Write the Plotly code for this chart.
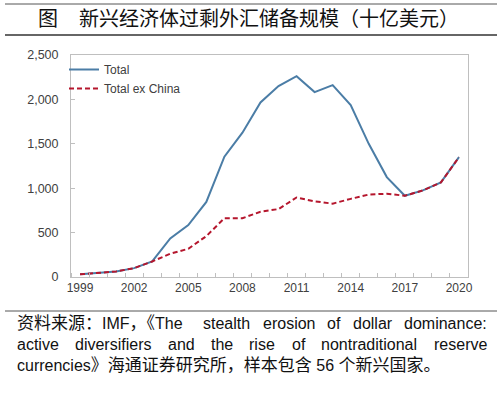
import plotly.graph_objects as go

years = list(range(1999, 2021))
total = [30, 42, 62, 100, 175, 435, 585, 845, 1355, 1625, 1965, 2150, 2262, 2082, 2160, 1935, 1500, 1125, 915, 975, 1065, 1350]
total_ex_china = [30, 42, 62, 100, 175, 262, 318, 460, 662, 662, 735, 765, 895, 852, 826, 880, 928, 938, 915, 975, 1065, 1350]
xtick_labels = [1999, 2002, 2005, 2008, 2011, 2014, 2017, 2020]
ytick_vals = [0, 500, 1000, 1500, 2000, 2500]

title_tag = "图"
title_text = "新兴经济体过剩外汇储备规模（十亿美元）"
source_lines = [
    "资料来源：IMF，《The stealth erosion of dollar dominance:",
    "active diversifiers and the rise of nontraditional reserve",
    "currencies》海通证券研究所，样本包含 56 个新兴国家。",
]

W, H = 500, 393
L, R, T, B = 71, 468, 55, 277

def px(x):
    return (x - L) / (R - L)

def py(y):
    return (B - y) / (B - T)

LAT = 16
CJK = 17
# Arial / Liberation Sans advance widths (em)
AW = {c: 0.556 for c in "abdeghnopqu0123456789"}
AW.update({"c": 0.5, "k": 0.5, "s": 0.5, "v": 0.5, "x": 0.5, "y": 0.5, "z": 0.5,
           "f": 0.278, "t": 0.278, "i": 0.222, "j": 0.222, "l": 0.222, "r": 0.333,
           "m": 0.833, "w": 0.722, " ": 0.278, ":": 0.278, ",": 0.278, ".": 0.278,
           "I": 0.278, "M": 0.833, "F": 0.611, "T": 0.611, "C": 0.722})

def is_cjk(ch):
    return ord(ch) > 0x2E80

def width(s):
    return sum(CJK if is_cjk(c) else AW.get(c, 0.556) * LAT for c in s)

def markup(s):
    out, buf, mode = [], "", None
    for c in s:
        m = is_cjk(c)
        if mode is not None and m != mode:
            out.append(f"<span style='font-size:{CJK}px'>{buf}</span>" if mode else buf)
            buf = ""
        buf += c
        mode = m
    if buf:
        out.append(f"<span style='font-size:{CJK}px'>{buf}</span>" if mode else buf)
    return "".join(out)

fig = go.Figure()
fig.add_trace(go.Scatter(x=years, y=total, mode="lines", name="Total",
                         line=dict(color="#4B7DA6", width=2)))
fig.add_trace(go.Scatter(x=years, y=total_ex_china, mode="lines", name="Total ex China",
                         line=dict(color="#B5162D", width=2, dash="5px,3px")))

fig.update_layout(
    width=W, height=H,
    margin=dict(l=L, r=W - R, t=T, b=H - B, pad=0),
    paper_bgcolor="white", plot_bgcolor="white",
    showlegend=True,
    legend=dict(x=px(64), y=py(55), xanchor="left", yanchor="top",
                bgcolor="rgba(0,0,0,0)", font=dict(family="Liberation Sans", size=12, color="#404040"),
                itemwidth=30, tracegroupgap=0),
    xaxis=dict(range=[1998.5, 2020.5], tickmode="array", tickvals=xtick_labels,
               ticktext=[str(v) for v in xtick_labels], ticks="",
               showgrid=False, zeroline=False, showline=True, linecolor="#BFBFBF", linewidth=1,
               mirror=True, tickfont=dict(family="Liberation Sans", size=12, color="#404040"),
               minor=dict(ticks="inside", tick0=1998.5, dtick=1, ticklen=4, tickcolor="#BFBFBF", showgrid=False)),
    yaxis=dict(range=[0, 2500], tickmode="array", tickvals=ytick_vals,
               ticktext=[f"{v:,}" for v in ytick_vals], ticks="inside", ticklen=4, tickcolor="#BFBFBF",
               ticklabelstandoff=9,
               showgrid=False, zeroline=False, showline=True, linecolor="#BFBFBF", linewidth=1,
               mirror=True, tickfont=dict(family="Liberation Sans", size=12.5, color="#404040")),
)

shapes = []
for yy, w, c in [(4, 1, "#555555"), (35, 1.5, "#333333"), (311, 1, "#555555")]:
    shapes.append(dict(type="line", xref="paper", yref="paper", x0=px(5), x1=px(497),
                       y0=py(yy), y1=py(yy), line=dict(color=c, width=w)))
fig.update_layout(shapes=shapes)

ann = []
tfont = dict(family="Noto Sans CJK SC", size=20, color="#111111")
ann.append(dict(text=title_tag, x=px(36), y=py(18), xref="paper", yref="paper", xanchor="left",
                yanchor="middle", showarrow=False, font=tfont))
ann.append(dict(text=title_text, x=px(77), y=py(18), xref="paper", yref="paper",
                xanchor="left", yanchor="middle", showarrow=False, font=tfont))

src_font = dict(family="Liberation Sans, Noto Sans CJK SC", size=LAT, color="#111111")
x_left, x_right = 15, 485
line_y = [323, 344, 365]
for i, (line, yy) in enumerate(zip(source_lines, line_y)):
    if i < len(source_lines) - 1:
        tokens = line.split(" ")
        widths = [width(t) for t in tokens]
        gap = (x_right - x_left - sum(widths)) / (len(tokens) - 1)
        xx = x_left
        for t, w in zip(tokens, widths):
            ann.append(dict(text=markup(t), x=px(xx), y=py(yy), xref="paper", yref="paper",
                            xanchor="left", yanchor="middle", showarrow=False, font=src_font))
            xx += w + gap
    else:
        ann.append(dict(text=markup(line), x=px(x_left), y=py(yy), xref="paper", yref="paper",
                        xanchor="left", yanchor="middle", showarrow=False, font=src_font))
fig.update_layout(annotations=ann)

fig.write_html("out.html", config={"displayModeBar": False},
               post_script="document.body.style.margin='0';document.body.style.padding='0';")
